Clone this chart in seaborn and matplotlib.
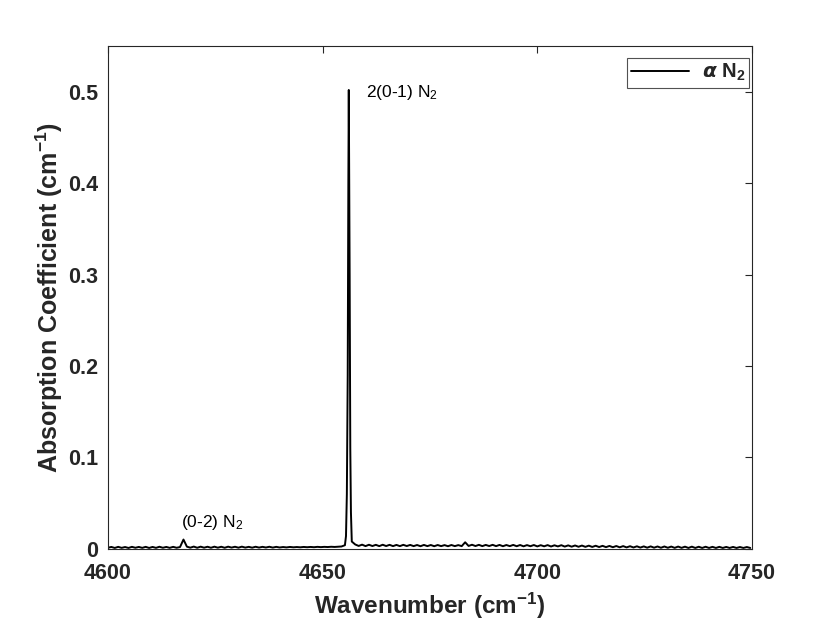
import numpy as np
import pandas as pd
import matplotlib
matplotlib.use("Agg")
import matplotlib.pyplot as plt
import seaborn as sns

# ---------------- data ----------------
# regular baseline grid (0.8 cm-1 step)
grid_start = 4600.0
grid_step = 0.8
base_abs = [
    # 4600.0 - 4616.8
    0.0012, 0.0021, 0.0010, 0.0022, 0.0011, 0.0020, 0.0010, 0.0022, 0.0012, 0.0021,
    0.0011, 0.0022, 0.0010, 0.0021, 0.0011, 0.0023, 0.0012, 0.0021, 0.0011, 0.0022,
    0.0012, 0.0020,
    # 4617.6 small (0-2) peak
    0.0102,
    # 4618.4 - 4640.0
    0.0024, 0.0013, 0.0025, 0.0012, 0.0024, 0.0013, 0.0023, 0.0012, 0.0024, 0.0013,
    0.0023, 0.0012, 0.0024, 0.0014, 0.0023, 0.0013, 0.0024, 0.0014, 0.0022, 0.0013,
    0.0023, 0.0014, 0.0022, 0.0015, 0.0023, 0.0014, 0.0022, 0.0015,
    # 4640.8 - 4654.4
    0.0020, 0.0016, 0.0021, 0.0017, 0.0020, 0.0017, 0.0021, 0.0018, 0.0021, 0.0018,
    0.0022, 0.0019, 0.0022, 0.0020, 0.0023, 0.0021, 0.0024, 0.0026,
    # 4655.2, 4656.0, 4656.8 (main peak flanks)
    0.0040, 0.4000, 0.0080,
    # 4657.6 - 4682.4
    0.0048, 0.0032, 0.0046, 0.0030, 0.0045, 0.0031, 0.0044, 0.0030, 0.0045, 0.0031,
    0.0044, 0.0030, 0.0043, 0.0030, 0.0044, 0.0031, 0.0043, 0.0030, 0.0042, 0.0029,
    0.0043, 0.0030, 0.0042, 0.0029, 0.0042, 0.0030, 0.0041, 0.0029, 0.0042, 0.0030,
    0.0041, 0.0030,
    # 4683.2 small bump
    0.0072,
    # 4684.0 - 4749.6
    0.0032, 0.0045, 0.0031, 0.0044, 0.0030, 0.0043, 0.0031, 0.0044, 0.0030, 0.0043,
    0.0029, 0.0042, 0.0030, 0.0043, 0.0029, 0.0042, 0.0028, 0.0041, 0.0029, 0.0042,
    0.0027, 0.0040, 0.0028, 0.0041, 0.0026, 0.0039, 0.0027, 0.0040, 0.0025, 0.0038,
    0.0024, 0.0037, 0.0023, 0.0036, 0.0022, 0.0035, 0.0021, 0.0034, 0.0020, 0.0033,
    0.0019, 0.0032, 0.0018, 0.0031, 0.0017, 0.0030, 0.0016, 0.0029, 0.0015, 0.0028,
    0.0014, 0.0027, 0.0013, 0.0027, 0.0013, 0.0026, 0.0012, 0.0026, 0.0012, 0.0025,
    0.0011, 0.0025, 0.0011, 0.0024, 0.0010, 0.0024, 0.0010, 0.0023, 0.0010, 0.0023,
    0.0010, 0.0022, 0.0010, 0.0022, 0.0010, 0.0021, 0.0010, 0.0021, 0.0010, 0.0020,
    0.0010, 0.0020, 0.0010,
]
base_wn = np.round(grid_start + grid_step * np.arange(len(base_abs)), 2)

# finer samples across the 2(0-1) N2 peak
peak_wn = [4655.45, 4655.65, 4655.85, 4656.1, 4656.3, 4656.45, 4656.6]
peak_abs = [0.014, 0.060, 0.190, 0.502, 0.300, 0.110, 0.040]

x_ticks = [4600, 4650, 4700, 4750]
y_ticks = [0, 0.1, 0.2, 0.3, 0.4, 0.5]
y_tick_labels = ["0", "0.1", "0.2", "0.3", "0.4", "0.5"]

annotations = [("2(0-1) N$_2$", 4660.0, 0.499), ("(0-2) N$_2$", 4617.0, 0.029)]

# ---------------- plot ----------------
df = pd.DataFrame({
    "wn": np.concatenate([base_wn, peak_wn]),
    "abs": np.concatenate([base_abs, peak_abs]),
}).sort_values("wn")

sns.set_style("white")
plt.rcParams["font.family"] = ["Liberation Sans", "DejaVu Sans"]
plt.rcParams["mathtext.fontset"] = "custom"
plt.rcParams["mathtext.rm"] = "Liberation Sans"
plt.rcParams["mathtext.it"] = "Liberation Sans:italic"
plt.rcParams["mathtext.bf"] = "Liberation Sans:bold"

fig = plt.figure(figsize=(8.3, 6.23), dpi=100)
ax = fig.add_axes([0.130, 0.119, 0.776, 0.807])

sns.lineplot(data=df, x="wn", y="abs", color="black", linewidth=1.4,
             label=r"$\boldsymbol{\alpha}$ N$_\mathbf{2}$", ax=ax, sort=True,
             estimator=None)

ax.set_xlim(4600, 4750)
ax.set_ylim(0, 0.55)
ax.set_xticks(x_ticks)
ax.set_xticklabels([str(t) for t in x_ticks])
ax.set_yticks(y_ticks)
ax.set_yticklabels(y_tick_labels)

for lab in ax.get_xticklabels() + ax.get_yticklabels():
    lab.set_fontweight("bold")
    lab.set_fontsize(15.5)
    lab.set_color("#262626")

ax.tick_params(direction="in", length=5, width=0.8, top=True, right=True,
               colors="#262626")
ax.tick_params(axis="x", pad=10)
ax.tick_params(axis="y", pad=7)
for sp in ax.spines.values():
    sp.set_color("#262626")
    sp.set_linewidth(0.8)

ax.set_xlabel(r"Wavenumber (cm$\mathbf{^{-1}}$)", fontsize=17.5, fontweight="bold",
              color="#262626", labelpad=5)
ax.set_ylabel(r"Absorption Coefficient (cm$\mathbf{^{-1}}$)", fontsize=18,
              fontweight="bold", color="#262626", labelpad=2)

for txt, xx, yy in annotations:
    ax.text(xx, yy, txt, fontsize=12.5, color="black", ha="left", va="center")

leg = ax.legend(loc="upper right", bbox_to_anchor=(0.9953, 0.976), frameon=True,
                fancybox=False, prop={"weight": "bold", "size": 14.5},
                handlelength=2.9, handletextpad=0.6, borderpad=0.2,
                borderaxespad=0.0)
leg.get_frame().set_edgecolor("#262626")
leg.get_frame().set_linewidth(0.8)

fig.savefig("out.png", dpi=100)
